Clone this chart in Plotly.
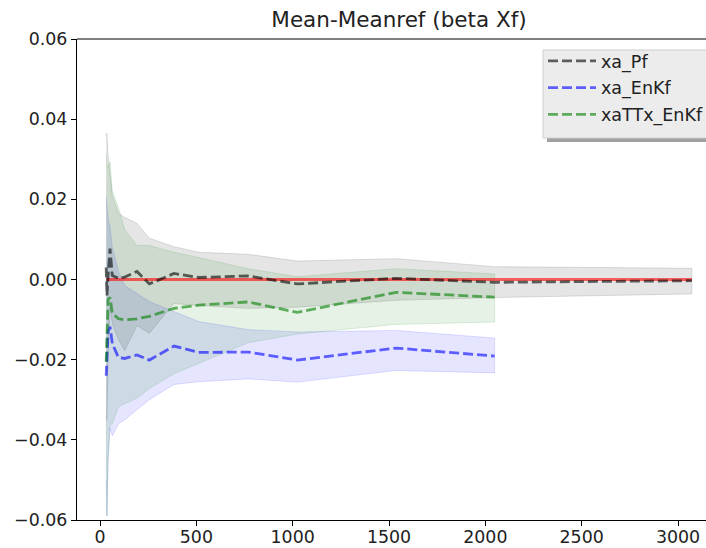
import plotly.graph_objects as go

# ---- data ----
x_pf = [32, 36, 42, 52, 64, 96, 128, 192, 256, 384, 512, 768, 1024, 1536, 2048, 3072]
x_enkf = [32, 36, 42, 52, 64, 96, 128, 192, 256, 384, 512, 768, 1024, 1536, 2048]

pf_mean = [0.003, -0.004, 0.001, 0.0077, 0.001, 0.0003, 0.0006, 0.002, -0.0011, 0.0015,
           0.0005, 0.0009, -0.0011, 0.0003, -0.0007, -0.0003]
pf_up = [0.036, 0.0365, 0.031, 0.026, 0.021, 0.0165, 0.0155, 0.014, 0.0103, 0.0082,
         0.0068, 0.0063, 0.0046, 0.0052, 0.0032, 0.0028]
pf_lo = [-0.034, -0.035, -0.02, -0.007, -0.011, -0.015, -0.0177, -0.0115, -0.0134, -0.006,
         -0.0065, -0.0072, -0.0069, -0.0052, -0.0045, -0.0036]

enkf_mean = [-0.024, -0.017, -0.013, -0.0118, -0.016, -0.0195, -0.0197, -0.0188, -0.0201,
             -0.0166, -0.0182, -0.0181, -0.0201, -0.0171, -0.0191]
enkf_up = [0.0207, 0.017, 0.015, 0.0132, 0.008, 0.002, -0.0015, -0.0035, -0.0055, -0.008,
           -0.0105, -0.0125, -0.0131, -0.0127, -0.0146]
enkf_lo = [-0.05, -0.059, -0.045, -0.037, -0.039, -0.036, -0.035, -0.0325, -0.030, -0.0262,
           -0.0255, -0.0248, -0.0256, -0.0227, -0.0233]

ttx_mean = [-0.0205, -0.012, -0.005, -0.0045, -0.0084, -0.0098, -0.0101, -0.0098, -0.0092,
            -0.0072, -0.0064, -0.0056, -0.0082, -0.0032, -0.0044]
ttx_up = [0.0314, 0.0286, 0.028, 0.0294, 0.022, 0.018, 0.0125, 0.0085, 0.0085, 0.0068,
          0.0055, 0.0027, 0.0007, 0.0027, 0.0014]
ttx_lo = [-0.035, -0.059, -0.045, -0.0363, -0.036, -0.0317, -0.031, -0.0296, -0.0272,
          -0.0235, -0.0209, -0.0158, -0.0136, -0.0112, -0.0106]

ref_value = [0.0] * len(x_pf)

x_ticks = [0, 500, 1000, 1500, 2000, 2500, 3000]
y_ticks = [-0.06, -0.04, -0.02, 0.0, 0.02, 0.04, 0.06]
y_ticktext = ["\u22120.06", "\u22120.04", "\u22120.02", "0.00", "0.02", "0.04", "0.06"]

series = [
    ("xa_Pf", x_pf, pf_mean, pf_up, pf_lo, (0, 0, 0)),
    ("xa_EnKf", x_enkf, enkf_mean, enkf_up, enkf_lo, (0, 0, 255)),
    ("xaTTx_EnKf", x_enkf, ttx_mean, ttx_up, ttx_lo, (0, 128, 0)),
]

FONT = "DejaVu Sans"
W, H = 706, 548
L, T, B = 77, 39, 28
PW, PH = W - L, H - T - B


def px_x(p):
    return (p - L) / PW


def px_y(p):
    return (H - B - p) / PH


fig = go.Figure()

# bands
for name, xs, m, up, lo, (r, g, b) in series:
    fig.add_trace(go.Scatter(
        x=list(xs) + list(xs)[::-1],
        y=list(up) + list(lo)[::-1],
        fill="toself",
        fillcolor=f"rgba({r},{g},{b},0.1)",
        line=dict(color=f"rgba({r},{g},{b},0.12)", width=1),
        mode="lines", showlegend=False, hoverinfo="skip",
    ))

# reference line
fig.add_trace(go.Scatter(
    x=x_pf, y=ref_value, mode="lines",
    line=dict(color="rgba(255,0,0,0.6)", width=2.8),
    showlegend=False,
))

# mean lines
for i, (name, xs, m, up, lo, (r, g, b)) in enumerate(series):
    fig.add_trace(go.Scatter(
        x=xs, y=m, mode="lines", name=name, legendgroup=f"g{i}",
        line=dict(color=f"rgba({r},{g},{b},0.6)", width=2.8, dash="10px,4px"),
    ))

fig.update_layout(
    width=W, height=H,
    margin=dict(l=L, r=0, t=T, b=B, autoexpand=False),
    paper_bgcolor="white", plot_bgcolor="white",
    font=dict(family=FONT, size=17.4, color="black"),
    title=dict(text="Mean-Meanref (beta Xf)", x=(L + 721) / 2 / W, xanchor="center",
               y=1 - 19 / H, yanchor="middle", font=dict(family=FONT, size=21.5, color="#222")),
    showlegend=True,
    legend=dict(x=px_x(543), xanchor="left", y=px_y(43), yanchor="top",
                bgcolor="rgba(0,0,0,0)", borderwidth=0,
                font=dict(family=FONT, size=17.5, color="#222"),
                tracegroupgap=1, itemwidth=48),
    xaxis=dict(range=[(L - 100) / 0.19267, (W - 100) / 0.19267], tickvals=x_ticks,
               showgrid=False, zeroline=False,
               showline=True, linecolor="black", linewidth=1.2, ticks="outside",
               ticklen=5, tickcolor="black", ticklabelstandoff=-4,
               tickfont=dict(family=FONT, size=17.4, color="#222")),
    yaxis=dict(range=[-0.06, 0.06], tickvals=y_ticks, ticktext=y_ticktext, showgrid=False,
               zeroline=False, showline=True, linecolor="black", linewidth=1.2,
               ticks="outside", ticklen=5, tickcolor="black",
               tickfont=dict(family=FONT, size=17.4, color="#222")),
    shapes=[
        dict(type="line", xref="paper", yref="paper", x0=0, x1=1, y0=1, y1=1,
             line=dict(color="black", width=1.2)),
        # legend shadow
        dict(type="rect", xref="paper", yref="paper",
             x0=px_x(547), x1=px_x(730), y0=px_y(142), y1=px_y(54),
             fillcolor="rgb(160,160,160)", line=dict(width=0), layer="above"),
        # legend box
        dict(type="rect", xref="paper", yref="paper",
             x0=px_x(543), x1=px_x(725), y0=px_y(138), y1=px_y(50),
             fillcolor="rgb(236,236,236)", line=dict(color="rgb(205,205,205)", width=1),
             layer="above"),
    ],
)

fig.write_html("out.html", config={"displayModeBar": False},
               post_script="document.body.style.margin='0px';")
